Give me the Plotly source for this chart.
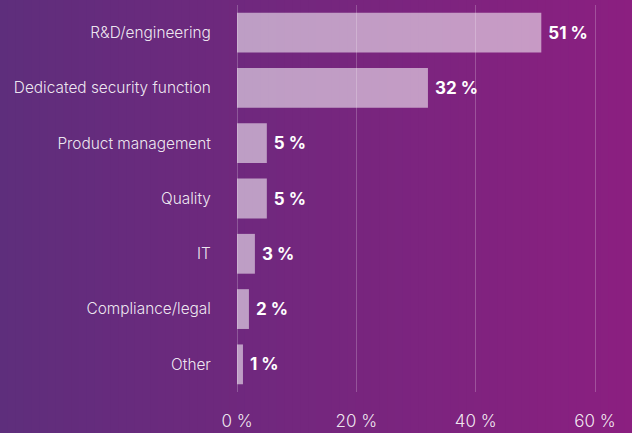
import plotly.graph_objects as go

categories = ["R&D/engineering", "Dedicated security function", "Product management",
              "Quality", "IT", "Compliance/legal", "Other"]
values = [51, 32, 5, 5, 3, 2, 1]
tick_vals = [0, 20, 40, 60]
tick_text = ["0 %", "20 %", "40 %", "60 %"]

W, H = 632, 433
L, R, T, B = 237, 0, 5, 41

fig = go.Figure(go.Bar(
    y=categories, x=values, orientation="h",
    marker=dict(color="rgba(255,255,255,0.55)", line=dict(width=0)),
    text=[f"\u00a0{v}\u00a0%" for v in values], textposition="outside",
    textfont=dict(family="Inter", size=17, color="white", weight="bold"),
    cliponaxis=False, hoverinfo="skip",
))

# background gradient via stacked strips
c0 = (0x5e, 0x2e, 0x7c)
c1 = (0x8b, 0x1f, 0x80)
n = 80
pw = W - L - R
ph = H - T - B
shapes = []
for i in range(n):
    t = (i + 0.5) / n
    col = tuple(round(c0[k] + (c1[k] - c0[k]) * t) for k in range(3))
    x0 = (i / n * W - L) / pw
    x1 = ((i + 1) / n * W - L + 1) / pw
    shapes.append(dict(type="rect", xref="paper", yref="paper",
                       x0=x0, x1=x1, y0=-B / ph - 0.01, y1=1 + T / ph + 0.01,
                       fillcolor="rgb(%d,%d,%d)" % col, line=dict(width=0), layer="below"))

fig.update_layout(
    width=W, height=H,
    margin=dict(l=L, r=R, t=T, b=B),
    paper_bgcolor="#6f2b7e", plot_bgcolor="rgba(0,0,0,0)",
    shapes=shapes, showlegend=False, bargap=0.28,
    font=dict(family="Inter", color="white"),
    xaxis=dict(range=[0, 66.2], tickvals=tick_vals, ticktext=tick_text,
               showgrid=True, gridcolor="rgba(255,255,255,0.22)", gridwidth=1,
               zeroline=True, zerolinecolor="rgba(255,255,255,0.22)", zerolinewidth=1,
               ticks="outside", ticklen=14, tickcolor="rgba(0,0,0,0)",
               tickfont=dict(size=17, color="rgba(255,255,255,0.9)", family="Inter", weight=300),
               fixedrange=True),
    yaxis=dict(autorange="reversed", showgrid=False, ticks="outside", ticklen=22,
               tickcolor="rgba(0,0,0,0)",
               tickfont=dict(size=15.4, color="rgba(255,255,255,0.9)", family="Inter", weight=300),
               fixedrange=True),
)

fig.write_html("out.html", config={"displayModeBar": False},
               post_script="document.body.style.margin='0';document.body.style.overflow='hidden';")
